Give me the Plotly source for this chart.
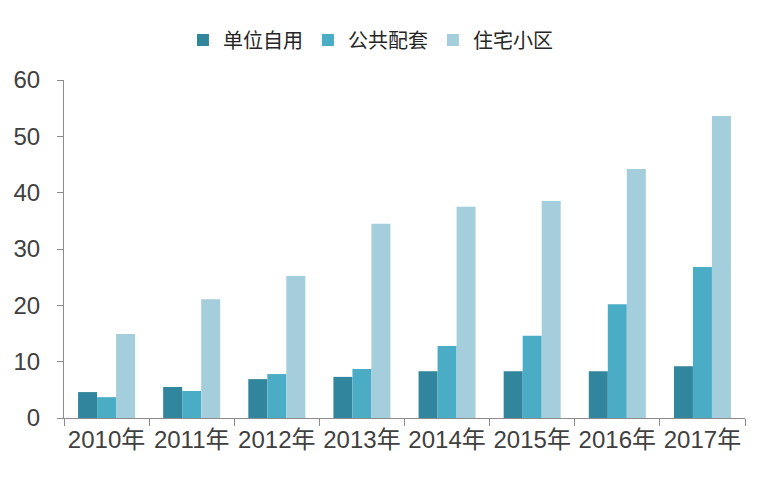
import plotly.graph_objects as go

years = ["2010年", "2011年", "2012年", "2013年", "2014年", "2015年", "2016年", "2017年"]
series_names = ["单位自用", "公共配套", "住宅小区"]
danwei = [4.6, 5.5, 6.9, 7.3, 8.3, 8.3, 8.3, 9.2]
gonggong = [3.7, 4.8, 7.8, 8.7, 12.8, 14.6, 20.2, 26.8]
zhuzhai = [14.9, 21.1, 25.2, 34.5, 37.5, 38.5, 44.2, 53.6]
y_ticks = [0, 10, 20, 30, 40, 50, 60]

colors = ["#31859C", "#4BACC6", "#A5CEDD"]
font_family = "Arial, 'Liberation Sans', 'Noto Sans CJK SC', sans-serif"

fig = go.Figure()
for name, vals, c in zip(series_names, [danwei, gonggong, zhuzhai], colors):
    fig.add_trace(go.Bar(x=years, y=vals, name=name, marker=dict(color=c, line=dict(width=0))))

fig.update_layout(
    width=762, height=483,
    margin=dict(l=56, r=25, t=72, b=73, autoexpand=False),
    paper_bgcolor="white", plot_bgcolor="white",
    barmode="group", bargap=0.33, bargroupgap=0,
    font=dict(family=font_family, color="#404040"),
    legend=dict(orientation="h", x=0.45, xanchor="center", y=1.118, yanchor="middle",
                font=dict(size=20, color="#262626"), itemwidth=30, traceorder="normal"),
    showlegend=True,
)
fig.update_xaxes(
    showline=True, linecolor="#8C8C8C", linewidth=1,
    ticks="outside", tickson="boundaries", ticklen=7, tickcolor="#8C8C8C",
    tickfont=dict(size=24, color="#404040"), showgrid=False, tickangle=0, automargin=False,
)
fig.update_yaxes(
    range=[0, 60], tickvals=y_ticks, showline=True, linecolor="#8C8C8C", linewidth=1,
    ticks="outside", ticklen=6, tickcolor="#8C8C8C", showgrid=False, zeroline=False,
    tickfont=dict(size=24, color="#404040"), ticklabelstandoff=12, automargin=False,
)

fig.write_html("out.html")
